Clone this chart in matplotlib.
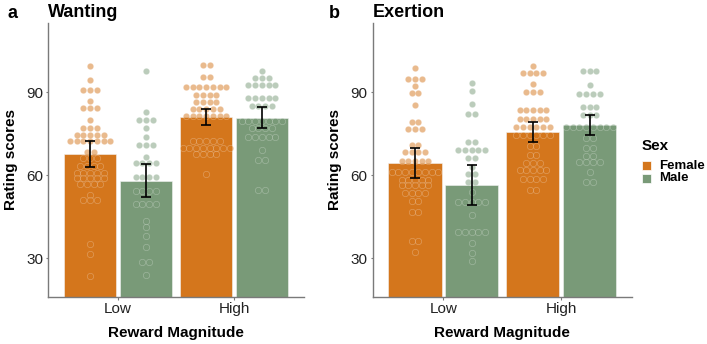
import numpy as np
import matplotlib.pyplot as plt
from matplotlib.patches import Rectangle
from matplotlib.colors import to_rgba

plt.rcParams['font.family'] = ['Liberation Sans', 'DejaVu Sans']

groups = ['Low', 'High']
sexes = ['Female', 'Male']
bar_colors = {'Female': '#D4761C', 'Male': '#799A78'}

# bar heights and error bar ends
want_mean_f = [67.5, 81.0]
want_mean_m = [57.9, 80.7]
want_lo_f = [63.0, 78.1]
want_hi_f = [72.3, 84.1]
want_lo_m = [52.0, 77.0]
want_hi_m = [64.0, 84.5]

exer_mean_f = [64.4, 75.6]
exer_mean_m = [56.6, 78.1]
exer_lo_f = [59.0, 72.0]
exer_hi_f = [70.0, 79.2]
exer_lo_m = [49.3, 74.4]
exer_hi_m = [63.6, 81.8]

# dot rows: (rating, number of dots in the row)
want_low_f = [(99.5, 1), (94.5, 1), (90.7, 3), (86.7, 1), (84.3, 3), (80.1, 1), (77.2, 3),
              (74.6, 5), (72.2, 7), (68.5, 2), (66.4, 3), (63.5, 4), (60.9, 5), (59.0, 5),
              (56.9, 4), (52.8, 1), (50.9, 3), (35.0, 1), (31.5, 1), (23.5, 1)]
want_low_m = [(97.5, 1), (82.9, 1), (80.0, 3), (77.1, 1), (73.9, 1), (70.9, 3), (66.6, 1),
              (64.3, 4), (59.4, 4), (54.4, 4), (49.5, 4), (43.5, 1), (41.2, 1), (38.1, 1),
              (34.0, 1), (28.5, 2), (24.0, 1)]
want_high_f = [(99.7, 2), (95.5, 2), (91.9, 7), (89.0, 4), (86.6, 4), (84.1, 5), (81.4, 7),
               (72.2, 5), (69.8, 8), (67.5, 4), (60.4, 1)]
want_high_m = [(97.5, 1), (95.0, 3), (92.5, 5), (88.0, 5), (85.0, 4), (79.6, 7), (76.9, 4),
               (73.7, 5), (69.0, 1), (65.4, 2), (54.8, 2)]

exer_low_f = [(98.8, 1), (94.9, 3), (92.3, 1), (89.8, 2), (85.5, 1), (79.3, 2), (76.6, 3),
              (71.0, 2), (68.3, 4), (65.1, 5), (61.3, 8), (58.1, 5), (56.3, 5), (53.7, 4),
              (50.7, 2), (46.8, 2), (36.2, 2), (32.2, 1)]
exer_low_m = [(93.5, 1), (90.6, 1), (85.6, 1), (82.2, 2), (72.0, 2), (69.0, 5), (66.3, 2),
              (63.0, 1), (60.5, 2), (57.5, 2), (53.9, 1), (50.5, 5), (45.5, 1), (39.5, 5),
              (35.6, 1), (31.9, 1), (29.0, 1)]
exer_high_f = [(99.5, 1), (97.0, 4), (92.8, 1), (90.0, 3), (83.4, 5), (80.4, 5), (77.5, 6),
               (74.4, 6), (70.5, 2), (67.3, 2), (64.5, 3), (62.0, 5), (58.5, 4), (54.5, 2)]
exer_high_m = [(97.5, 3), (92.6, 1), (89.2, 4), (84.6, 3), (81.8, 3), (77.5, 8), (73.5, 2),
               (70.0, 2), (67.1, 2), (64.6, 4), (61.1, 1), (57.5, 2)]

yticks = [30, 60, 90]


def draw_dots(ax, xc, rows, color, dx):
    xs, ys = [], []
    for v, n in rows:
        for k in range(n):
            xs.append(xc + (k - (n - 1) / 2) * dx)
            ys.append(v)
    ax.scatter(xs, ys, s=21, facecolor=to_rgba(color, 0.5), edgecolor=(1, 1, 1, 0.28),
               linewidth=0.5, zorder=3)


def draw_panel(ax, means, los, his, dots, title, letter, letter_x):
    ax.set_xlim(0.4, 2.6)
    ax.set_ylim(16, 115)
    fig_w = ax.get_position().width * 707
    dx = 6.7 * 2.2 / fig_w
    x = np.arange(1, len(groups) + 1)
    offs = {'Female': -0.24, 'Male': 0.24}
    for sex in sexes:
        xs = x + offs[sex]
        ax.bar(xs, means[sex], width=0.45, color=bar_colors[sex], edgecolor='#f2f2f2',
               linewidth=0.4, zorder=2)
        for i in range(len(groups)):
            draw_dots(ax, xs[i], dots[sex][i], bar_colors[sex], dx)
        m = np.array(means[sex])
        ax.errorbar(xs, m, yerr=[m - np.array(los[sex]), np.array(his[sex]) - m], fmt='none',
                    ecolor='black', elinewidth=1.2, capsize=3.6, capthick=1.2, zorder=4)
    ax.set_xticks(x)
    ax.set_xticklabels(groups)
    ax.set_yticks(yticks)
    for s in ['top', 'right']:
        ax.spines[s].set_visible(False)
    for s in ['left', 'bottom']:
        ax.spines[s].set_color('#7a7a7a')
        ax.spines[s].set_linewidth(1.0)
    ax.tick_params(colors='#7a7a7a', labelcolor='#222222', labelsize=11, length=1.8,
                   width=0.8, pad=2)
    ax.set_xlabel('Reward Magnitude', fontsize=11, fontweight='bold', labelpad=7)
    ax.set_ylabel('Rating scores', fontsize=11, fontweight='bold', labelpad=6)
    ax.text(0.0, 1.04, title, transform=ax.transAxes, fontsize=13, fontweight='bold',
            ha='left', va='center')
    ax.figure.text(letter_x, 1 - 13 / 344, letter, fontsize=13, fontweight='bold',
                   ha='left', va='center')


fig = plt.figure(figsize=(7.07, 3.44), dpi=100)
ax1 = fig.add_axes([48.4 / 707, 1 - 297 / 344, 255.2 / 707, 274 / 344])
ax2 = fig.add_axes([372.5 / 707, 1 - 297 / 344, 259.5 / 707, 274 / 344])

draw_panel(ax1,
           {'Female': want_mean_f, 'Male': want_mean_m},
           {'Female': want_lo_f, 'Male': want_lo_m},
           {'Female': want_hi_f, 'Male': want_hi_m},
           {'Female': [want_low_f, want_high_f], 'Male': [want_low_m, want_high_m]},
           'Wanting', 'a', 8 / 707)
draw_panel(ax2,
           {'Female': exer_mean_f, 'Male': exer_mean_m},
           {'Female': exer_lo_f, 'Male': exer_lo_m},
           {'Female': exer_hi_f, 'Male': exer_hi_m},
           {'Female': [exer_low_f, exer_high_f], 'Male': [exer_low_m, exer_high_m]},
           'Exertion', 'b', 329 / 707)

# legend
fig.text(642 / 707, 1 - 146 / 344, 'Sex', fontsize=11, fontweight='bold', ha='left', va='center')
for i, sex in enumerate(sexes):
    yc = 165.5 + i * 12.5
    fig.patches.append(Rectangle((642 / 707, 1 - (yc + 4.5) / 344), 9 / 707, 9 / 344,
                                 transform=fig.transFigure, facecolor=bar_colors[sex],
                                 edgecolor='white', linewidth=0.5))
    fig.text(659 / 707, 1 - yc / 344, sex, fontsize=9.5, fontweight='bold', ha='left', va='center')

fig.savefig('out.png', dpi=100)
